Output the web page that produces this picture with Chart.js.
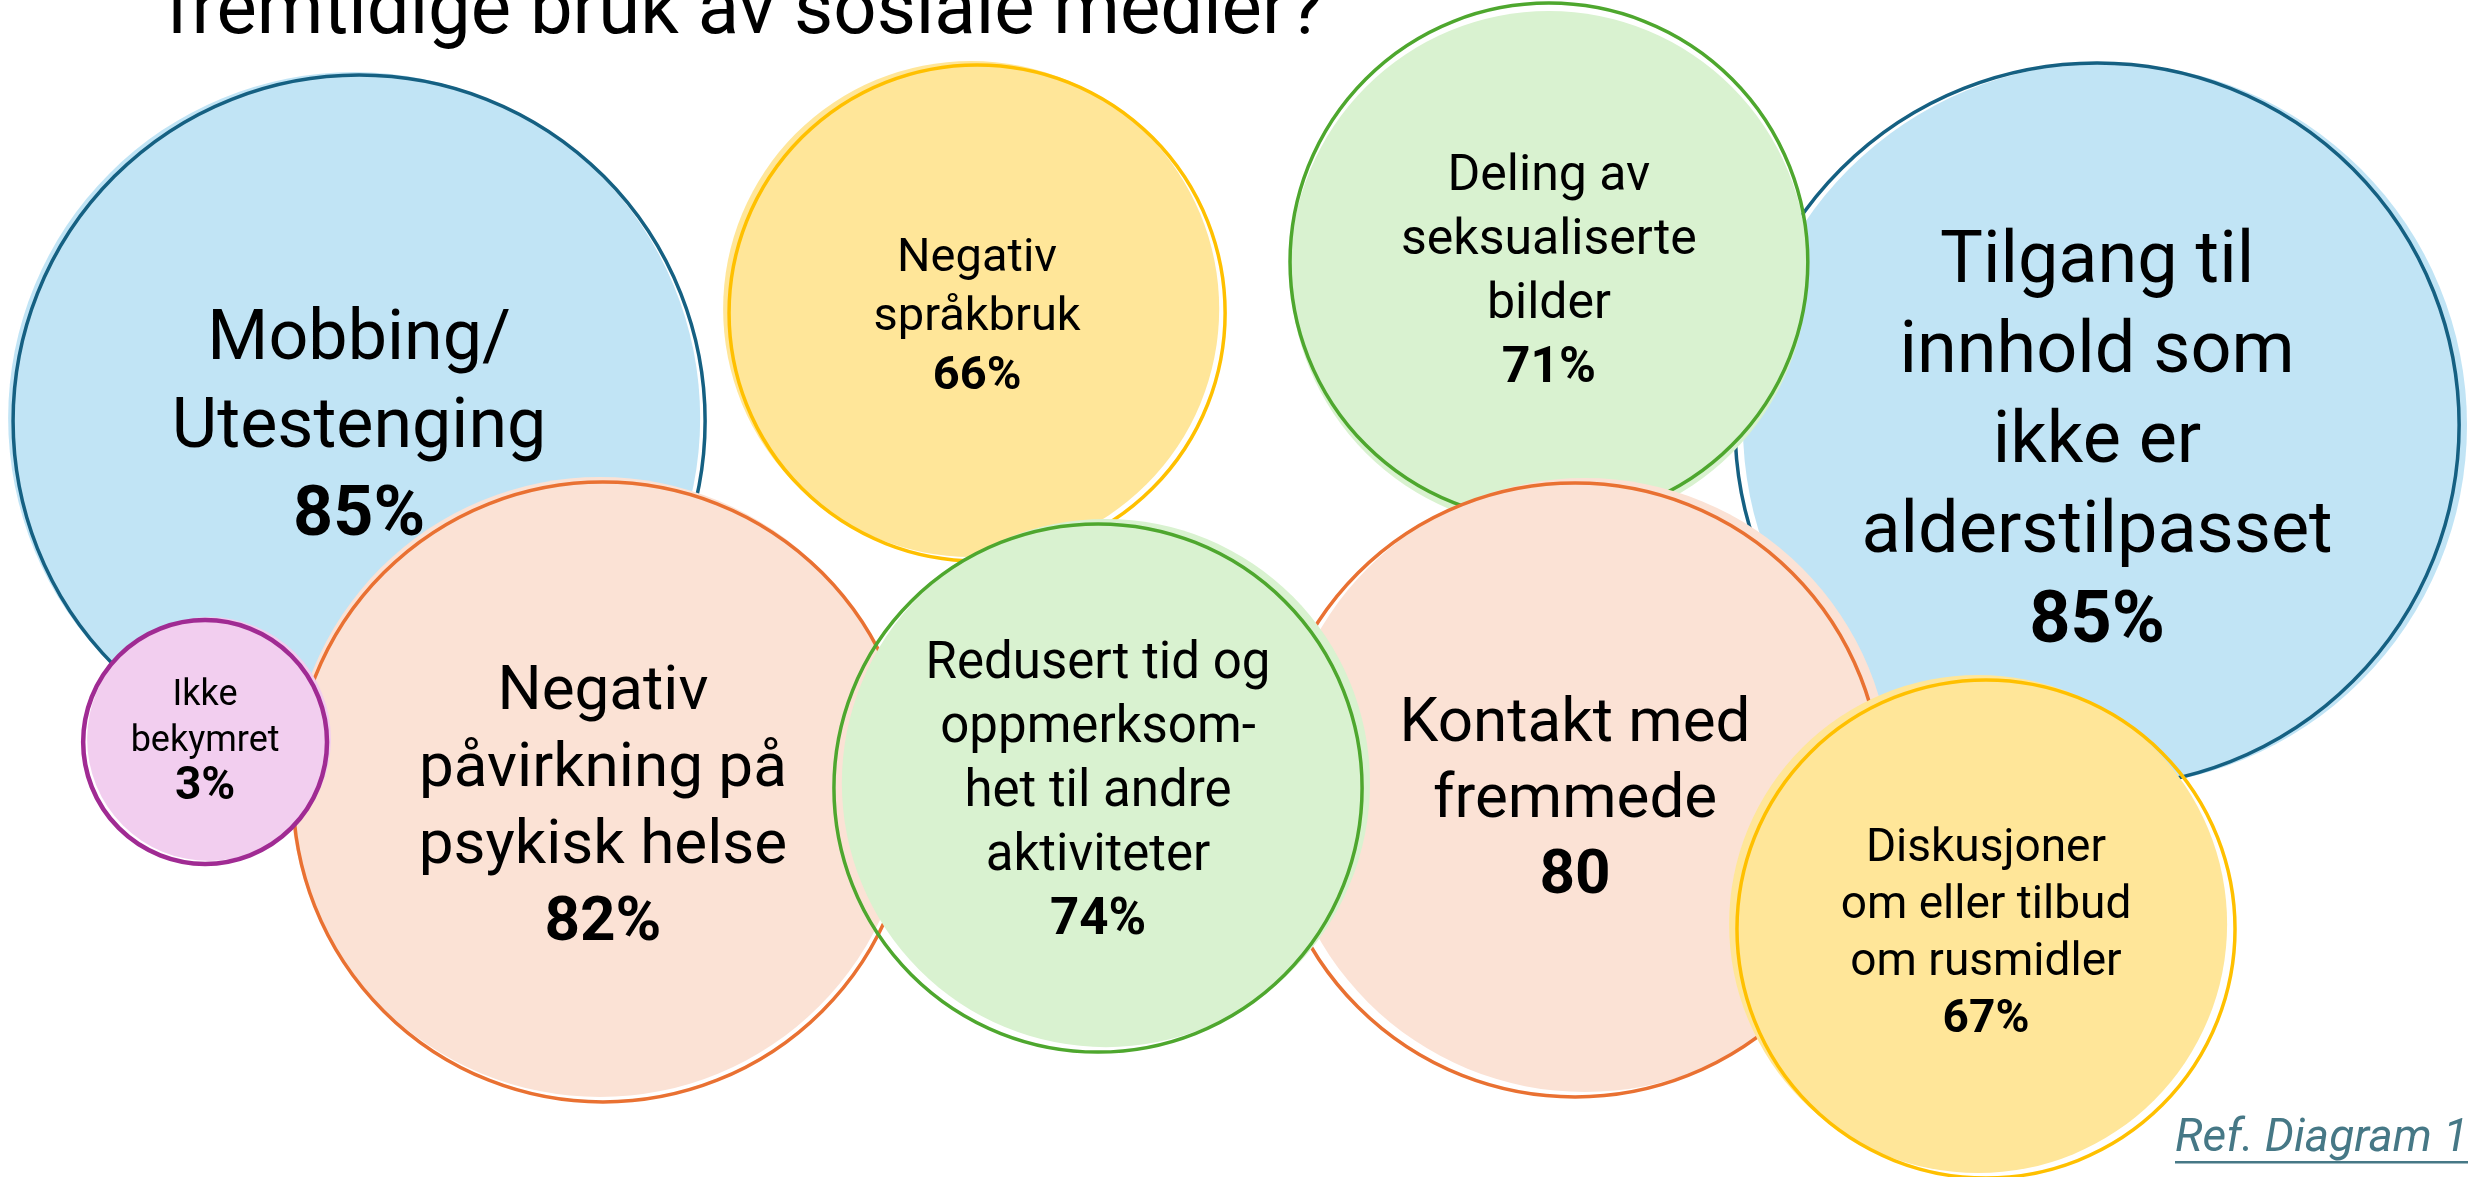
<!DOCTYPE html>
<html lang="no">
<head>
<meta charset="utf-8">
<title>Bekymringer sosiale medier</title>
<script src="https://cdn.jsdelivr.net/npm/chart.js@4.4.1/dist/chart.umd.min.js"></script>
<style>
  html, body { margin: 0; padding: 0; background: #fff; overflow: hidden; }
  #wrap { position: relative; width: 2468px; height: 1177px; }
</style>
</head>
<body>
<div id="wrap"><canvas id="bubbles"></canvas></div>
<script>
// categories listed in drawing order (first = bottom)
const categories = [
  'Tilgang til innhold som ikke er alderstilpasset',
  'Deling av seksualiserte bilder',
  'Mobbing/Utestenging',
  'Negativ språkbruk',
  'Kontakt med fremmede',
  'Negativ påvirkning på psykisk helse',
  'Diskusjoner om eller tilbud om rusmidler',
  'Ikke bekymret',
  'Redusert tid og oppmerksomhet til andre aktiviteter'
];
const labelLines = [
  ['Tilgang til', 'innhold som', 'ikke er', 'alderstilpasset'],
  ['Deling av', 'seksualiserte', 'bilder'],
  ['Mobbing/', 'Utestenging'],
  ['Negativ', 'språkbruk'],
  ['Kontakt med', 'fremmede'],
  ['Negativ', 'påvirkning på', 'psykisk helse'],
  ['Diskusjoner', 'om eller tilbud', 'om rusmidler'],
  ['Ikke', 'bekymret'],
  ['Redusert tid og', 'oppmerksom-', 'het til andre', 'aktiviteter']
];
const shares = [85, 71, 85, 66, 80, 82, 67, 3, 74];
const shareUnits = ['%', '%', '%', '%', '', '%', '%', '%', '%'];

// bubble layout on a 0-100 grid
const posX = [84.97, 62.76, 14.55, 39.59, 63.82, 24.43, 80.47, 8.31, 44.49];
const posY = [63.89, 77.74, 64.23, 73.41, 32.88, 32.71, 21.07, 36.96, 33.05];
const sizes = [14.67, 10.49, 14.02, 10.05, 12.44, 12.56, 10.09, 4.94, 10.70];

const titleText = 'fremtidige bruk av sosiale medier?';
const refText = 'Ref. Diagram 1';

// styles
const palette = {
  blue:   { fill: '#C1E4F5', line: '#156082', width: 3.5 },
  green:  { fill: '#D9F2D0', line: '#4EA72E', width: 3.5 },
  yellow: { fill: '#FFE699', line: '#FFC000', width: 3.5 },
  peach:  { fill: '#FBE2D5', line: '#E97132', width: 3.5 },
  pink:   { fill: '#F2CEEF', line: '#A02B93', width: 4.5 }
};
const colorKeys = ['blue', 'green', 'blue', 'yellow', 'peach', 'peach', 'yellow', 'pink', 'green'];
// the fill is a little off the outline, like a hand drawn shape
const fillShift = [[0.32, 0], [0, -0.68], [-0.2, 0.25], [-0.24, 0.34], [0.4, 0.42],
                   [-0.12, 0.42], [-0.32, 0.42], [0.16, 0.25], [0.32, 0.42]];
const fontSizes = [72, 50, 70, 47, 62, 62, 46, 36, 51];
const valueFontSizes = [72, 50, 70, 47, 62, 62, 46, 46, 51];
const lineHeights = [90, 64, 88, 59, 76, 77, 57, 46, 64];
const textNudge = [19, 11, 8, 5, 11, 17, 6, 0, 5];
const FONT = 'Roboto, "Noto Sans", sans-serif';

const points = [];
categories.forEach((cat, i) => {
  points.push({ x: posX[i] + fillShift[i][0], y: posY[i] + fillShift[i][1], i, part: 'fill' });
  points.push({ x: posX[i], y: posY[i], i, part: 'line' });
});

const labelPlugin = {
  id: 'bubbleLabels',
  afterDatasetsDraw(chart) {
    const { ctx, scales } = chart;
    ctx.save();
    ctx.fillStyle = '#000';
    ctx.textAlign = 'center';
    ctx.textBaseline = 'middle';
    categories.forEach((cat, i) => {
      const cx = scales.x.getPixelForValue(posX[i]);
      const cy = scales.y.getPixelForValue(posY[i]) + textNudge[i];
      const lines = labelLines[i].concat([shares[i] + shareUnits[i]]);
      const lh = lineHeights[i];
      lines.forEach((txt, k) => {
        const bold = k === lines.length - 1;
        ctx.font = bold ? 'bold ' + valueFontSizes[i] + 'px ' + FONT : fontSizes[i] + 'px ' + FONT;
        ctx.fillText(txt, cx, cy + (k - (lines.length - 1) / 2) * lh);
      });
    });
    ctx.restore();
  },
  afterDraw(chart) {
    const { ctx } = chart;
    ctx.save();
    ctx.textBaseline = 'alphabetic';
    ctx.textAlign = 'left';
    ctx.fillStyle = '#000';
    ctx.font = '76px ' + FONT;
    ctx.fillText(titleText, 165, 33);

    ctx.fillStyle = '#467886';
    ctx.font = 'italic 46px ' + FONT;
    ctx.fillText(refText, 2175, 1151);
    const w = ctx.measureText(refText).width;
    ctx.fillRect(2175, 1161, w, 2.5);
    ctx.restore();
  }
};

const ctx = document.getElementById('bubbles').getContext('2d');
new Chart(ctx, {
  type: 'bubble',
  data: {
    datasets: [{
      label: 'Bekymringer',
      data: points,
      clip: false,
      backgroundColor: (c) => c.raw && c.raw.part === 'fill' ? palette[colorKeys[c.raw.i]].fill : 'rgba(0,0,0,0)',
      borderColor: (c) => c.raw ? palette[colorKeys[c.raw.i]].line : '#000',
      borderWidth: (c) => c.raw && c.raw.part === 'line' ? palette[colorKeys[c.raw.i]].width : 0,
      // size is in x-grid units; the x axis spans the full canvas width
      radius: (c) => c.raw ? sizes[c.raw.i] * c.chart.width / 100 : 0
    }]
  },
  options: {
    responsive: true,
    maintainAspectRatio: false,
    animation: false,
    events: [],
    layout: { padding: 0, autoPadding: false },
    plugins: {
      legend: { display: false },
      tooltip: { enabled: false }
    },
    scales: {
      x: { type: 'linear', min: 0, max: 100, display: false },
      y: { type: 'linear', min: 0, max: 100, display: false }
    }
  },
  plugins: [labelPlugin]
});
</script>
</body>
</html>
